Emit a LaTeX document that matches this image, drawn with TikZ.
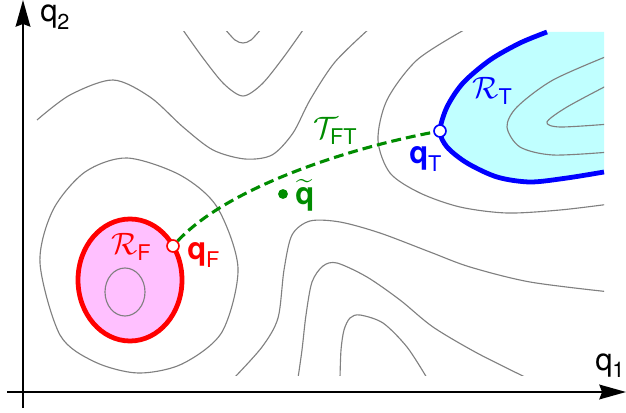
\RequirePackage{fix-cm}
\documentclass[tikz,border=0pt]{standalone}
\usepackage{amsmath}
\usepackage{fontspec}
\setmainfont{TeX Gyre Heros}
\usetikzlibrary{arrows.meta,positioning}
\definecolor{CsRed}{RGB}{255,0,0}
\definecolor{CsPink}{RGB}{255,192,255}
\definecolor{CsBlue}{RGB}{0,0,255}
\definecolor{CsCyan}{RGB}{192,255,255}
\definecolor{CsGreen}{RGB}{0,140,0}
\definecolor{CsGray}{RGB}{128,128,128}
\tikzset{
  cs/axis/.style={-{Stealth[length=19pt,width=10.5pt,inset=2pt]}, line width=1.3pt, draw=black},
  cs/contour/.style={draw=CsGray, line width=0.8pt},
  cs/edge/.style={line width=3.4pt},
  cs/endpt/.style={circle, draw, line width=1.2pt, fill=white, inner sep=0pt, minimum size=8.5pt},
  cs/dot/.style={circle, fill=CsGreen, inner sep=0pt, minimum size=7pt},
  cs/traj/.style={draw=CsGreen, line width=2.2pt, dash pattern=on 7pt off 3.6pt},
  cs/label/.style={font=\fontsize{22}{26}\selectfont, inner sep=0pt, anchor=base west}
}

\begin{document}
\begin{tikzpicture}[x=0.025cm,y=-0.025cm]
  \useasboundingbox (0,0) rectangle (626,413);
  \fill[CsCyan] plot[smooth] coordinates {(547,32) (520,43) (490,60) (463,83) (447,107) (440,131)
    (447,147) (467,163) (497,177) (530,182) (567,178) (604,172)} -- (604,32) -- cycle;
  \draw[cs/edge, draw=CsRed, fill=CsPink] (130,280) ellipse [x radius=52, y radius=61];
  \begin{scope}
    \clip (30,32) rectangle (604,375);
    \draw[cs/contour] plot[smooth] coordinates {(224,28) (235,40) (243,43) (251,40) (262,28)};
    \draw[cs/contour] plot[smooth] coordinates {(183,30) (203,58) (224,84) (243,96) (262,84) (283,58) (303,30)};
    \draw[cs/contour] plot[smooth] coordinates {(37,120) (70,95) (113,80) (150,97) (183,127) (213,150)
      (245,159) (272,155) (293,133) (310,100) (335,62) (370,28)};
    \draw[cs/contour] plot[smooth cycle] coordinates {(127,158) (180,175) (217,207) (238,268) (222,332)
      (182,364) (138,373) (95,362) (60,335) (40,263) (53,210) (85,172)};
    \draw[cs/contour] (125,292) ellipse [x radius=20, y radius=24];
    \draw[cs/contour] plot[smooth] coordinates {(464,30) (417,60) (387,100) (378,140) (390,173)
      (420,193) (460,207) (507,213) (560,210) (610,204)};
    \draw[cs/contour] plot[smooth] coordinates {(610,55) (553,80) (517,107) (507,127) (520,147) (553,155) (610,152)};
    \draw[cs/contour] plot[smooth] coordinates {(610,84) (567,107) (547,122) (560,127) (610,124)};
    \draw[cs/contour] plot[smooth] coordinates {(234,378) (262,347) (278,318) (284,270) (292,235) (310,221)
      (340,222) (380,233) (430,252) (470,267) (530,282) (610,292)};
    \draw[cs/contour] plot[smooth] coordinates {(298,378) (302,350) (306,315) (312,282) (323,266) (337,263)
      (367,277) (400,300) (433,327) (477,353) (527,378)};
    \draw[cs/contour] plot[smooth] coordinates {(340,378) (341,350) (344,330) (350,318) (360,315) (383,323)
      (407,347) (427,378)};
  \end{scope}
  \draw[cs/edge, draw=CsBlue] plot[smooth] coordinates {(547,32) (520,43) (490,60) (463,83) (447,107) (440,131)
    (447,147) (467,163) (497,177) (530,182) (567,178) (604,172)};

  \coordinate (xfrom) at (7,392);
  \coordinate (xto) at (626,392);
  \coordinate (yfrom) at (23,408);
  \coordinate (yto) at (23,0);
  \draw[cs/axis] (xfrom) -- (xto);
  \draw[cs/axis] (yfrom) -- (yto);
  \node[cs/label] (q1label) at (595,370) {$\text{q}_{\text{1}}$};
  \node[cs/label] (q2label) at (40,22) {$\text{q}_{\text{2}}$};

  \node[cs/endpt, draw=CsRed] (qF) at (173,246) {};
  \node[cs/endpt, draw=CsBlue] (qT) at (440,131) {};
  \draw[cs/traj] (qF) .. controls (225,190) and (340,150) .. (qT);
  \node[cs/dot] (qtilde) at (283,194) {};

  \node[cs/label, text=CsRed] (RFlabel) at (111,255) {$\mathcal{R}_{\text{F}}$};
  \node[cs/label, text=CsRed] (qFlabel) at (187,260) {$\textbf{q}_{\text{F}}$};
  \node[cs/label, text=CsBlue] (RTlabel) at (472,99) {$\mathcal{R}_{\text{T}}$};
  \node[cs/label, text=CsBlue] (qTlabel) at (409,164) {$\textbf{q}_{\text{T}}$};
  \node[cs/label, text=CsGreen] (TFTlabel) at (313,139) {$\mathcal{T}_{\text{FT}}$};
  \node[cs/label, text=CsGreen] (qtildelabel) at (295,205) {$\widetilde{\textbf{q}}$};
\end{tikzpicture}
\end{document}
